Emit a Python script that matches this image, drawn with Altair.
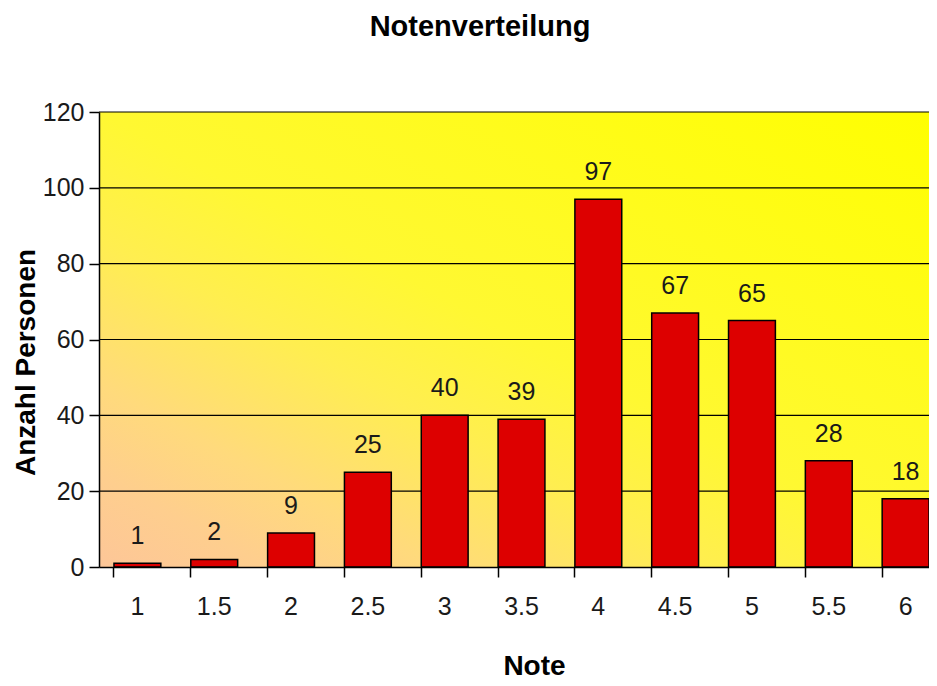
import altair as alt
import pandas as pd

noten = ["1", "1.5", "2", "2.5", "3", "3.5", "4", "4.5", "5", "5.5", "6"]
anzahl = [1, 2, 9, 25, 40, 39, 97, 67, 65, 28, 18]
y_ticks = [0, 20, 40, 60, 80, 100, 120]

df = pd.DataFrame({"Note": noten, "Anzahl": anzahl})
grid_df = pd.DataFrame({"v": y_ticks[1:]})
bg_df = pd.DataFrame({"lo": [0], "hi": [120]})

FONT = "Liberation Sans"
TXT = "#1a1a1a"

x_enc = alt.X(
    "Note:N",
    sort=noten,
    scale=alt.Scale(range=[0, 845], paddingInner=0.39, paddingOuter=0.195),
    axis=alt.Axis(
        title="Note",
        titleFontSize=28,
        titleFontWeight="bold",
        titleFont=FONT,
        titleColor="#000000",
        titleX=435,
        titleY=107,
        titleBaseline="alphabetic",
        labelAngle=0,
        labelFontSize=25,
        labelFont=FONT,
        labelColor=TXT,
        labelPadding=37,
        labelBaseline="alphabetic",
        bandPosition=0,
        tickSize=10,
        tickColor="#000000",
        tickWidth=1.5,
        domainColor="#000000",
        domainWidth=1.5,
        grid=False,
        zindex=1,
    ),
)

y_enc = alt.Y(
    "Anzahl:Q",
    scale=alt.Scale(domain=[0, 120], nice=False),
    axis=alt.Axis(
        title="Anzahl Personen",
        titleFontSize=28,
        titleFontWeight="bold",
        titleFont=FONT,
        titleColor="#000000",
        titleX=-65,
        titleY=250,
        titleBaseline="alphabetic",
        values=y_ticks,
        labelFontSize=25,
        labelFont=FONT,
        labelColor=TXT,
        labelPadding=5,
        tickSize=10,
        tickColor="#000000",
        tickWidth=1.5,
        domainColor="#000000",
        domainWidth=1.5,
        grid=False,
        zindex=1,
    ),
)

gradient = alt.LinearGradient(
    gradient="linear",
    x1=0, y1=1, x2=1, y2=0,
    stops=[
        alt.GradientStop(offset=0.0, color="#fdc698"),
        alt.GradientStop(offset=0.10, color="#fece8e"),
        alt.GradientStop(offset=0.20, color="#ffda7c"),
        alt.GradientStop(offset=0.28, color="#ffe466"),
        alt.GradientStop(offset=0.36, color="#ffee50"),
        alt.GradientStop(offset=0.50, color="#fff832"),
        alt.GradientStop(offset=1.0, color="#ffff00"),
    ],
)

background = alt.Chart(bg_df).mark_rect(color=gradient, strokeWidth=0).encode(
    x=alt.value(0),
    x2=alt.value(845),
    y=alt.Y("hi:Q"),
    y2="lo:Q",
)

grid = alt.Chart(grid_df).mark_rule(color="#000000", strokeWidth=1.2).encode(
    x=alt.value(0),
    x2=alt.value(845),
    y="v:Q",
)

bars = alt.Chart(df).mark_bar(
    color="#dd0000", stroke="#000000", strokeWidth=1.5
).encode(x=x_enc, y=y_enc)

labels = alt.Chart(df).mark_text(
    baseline="alphabetic", dy=-19, fontSize=25, font=FONT, color=TXT
).encode(x=alt.X("Note:N", sort=noten), y="Anzahl:Q", text="Anzahl:Q")

chart = (
    alt.layer(background, grid, bars, labels)
    .properties(
        width=830,
        height=455,
        autosize=alt.AutoSizeParams(type="none"),
        padding={"left": 91, "top": 104, "right": 0, "bottom": 112},
        title=alt.TitleParams(
            text="Notenverteilung",
            fontSize=29,
            fontWeight="bold",
            font=FONT,
            color="#000000",
            anchor="middle",
            dx=-34,
            offset=35,
            baseline="alphabetic",
        ),
    )
    .configure_view(stroke=None)
    .configure(background="#ffffff")
)

chart.save("out.html", embed_options={"renderer": "svg", "actions": False})
